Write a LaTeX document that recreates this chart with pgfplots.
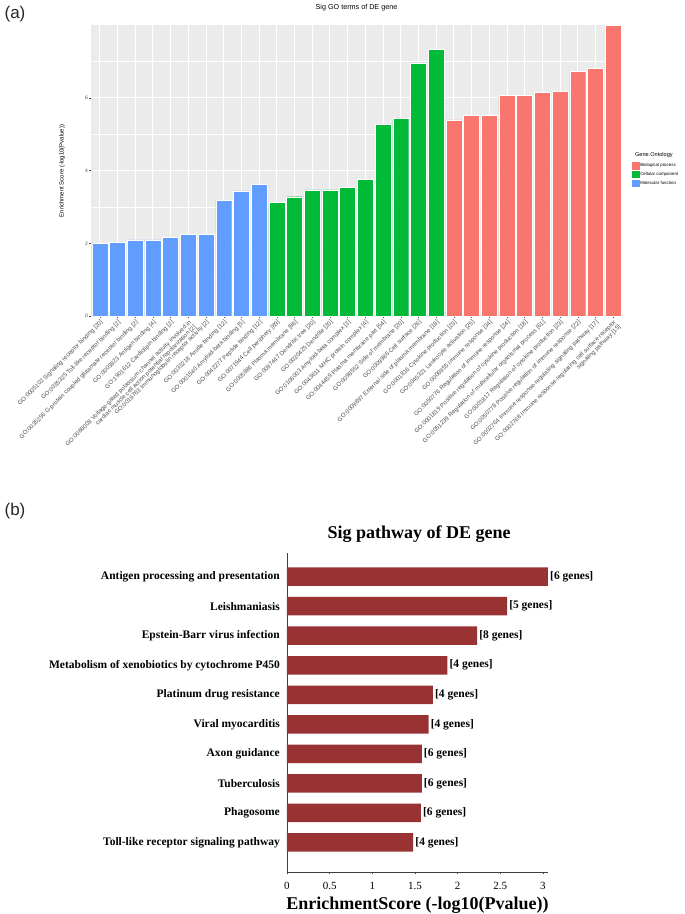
\documentclass[border=0pt]{standalone}
\usepackage{pgfplots}
\pgfplotsset{compat=1.18}
\usepackage{fontspec}
\setmainfont{Liberation Serif}
\newfontfamily\arialf{Liberation Sans}
\definecolor{ggred}{HTML}{F8766D}
\definecolor{gggreen}{HTML}{00BA38}
\definecolor{ggblue}{HTML}{619CFF}
\definecolor{ggbg}{HTML}{EBEBEB}
\definecolor{gglab}{HTML}{4D4D4D}
\definecolor{barred}{RGB}{153,51,51}
\pgfplotsset{ggkey/.style={legend image code/.code={\fill[##1,draw=none] (0pt,-3.75pt) rectangle (7.5pt,3.75pt);}}}

\pgfplotstableread[col sep=comma]{
v,i,g
3.06,10,[6 genes]
2.58,9,[5 genes]
2.23,8,[8 genes]
1.88,7,[4 genes]
1.71,6,[4 genes]
1.66,5,[4 genes]
1.58,4,[6 genes]
1.58,3,[6 genes]
1.57,2,[6 genes]
1.48,1,[4 genes]
}\pathtab

\begin{document}
\begin{tikzpicture}
\useasboundingbox (0pt,0pt) rectangle (685pt,-914pt);
\node[font=\arialf\fontsize{17}{17}\selectfont, text=black!85] at (15pt,-14pt) {(a)};
\node[font=\arialf\fontsize{17}{17}\selectfont, text=black!85] at (15pt,-511pt) {(b)};
\node[anchor=west, font=\arialf\fontsize{5.6}{6}\selectfont] at (631.5pt,-155pt) {Gene.Ontology};

\begin{axis}[
  at={(91pt,-316pt)}, anchor=south west,
  scale only axis, width=531pt, height=291pt,
  xmin=0.5, xmax=30.5, ymin=0, ymax=8,
  axis background/.style={fill=ggbg},
  axis line style={draw=none},
  xtick={1,...,30},
  xticklabels={
    GO:0005102 Signaling receptor binding [20],
    GO:0035325 Toll-like receptor binding [2],
    GO:0035256 G-protein coupled glutamate receptor binding [2],
    GO:0003823 Antigen binding [4],
    GO:1901612 Cardiolipin binding [2],
    {GO:0086008 Voltage-gated potassium channel activity involved in\\cardiac muscle cell action potential repolarization [2]},
    GO:0019763 Immunoglobulin receptor activity [2],
    GO:0033218 Amide binding [12],
    GO:0001540 Amyloid-beta binding [5],
    GO:0042277 Peptide binding [12],
    GO:0071944 Cell periphery [89],
    GO:0005886 Plasma membrane [86],
    GO:0097447 Dendritic tree [20],
    GO:0030425 Dendrite [20],
    GO:0106003 Amyloid-beta complex [3],
    GO:0043611 MHC protein complex [4],
    GO:0044459 Plasma membrane part [54],
    GO:0098552 Side of membrane [20],
    GO:0009986 Cell surface [26],
    GO:0009897 External side of plasma membrane [18],
    GO:0001816 Cytokine production [23],
    GO:0045321 Leukocyte activation [25],
    GO:0006955 Immune response [34],
    GO:0050776 Regulation of immune response [24],
    GO:0001819 Positive regulation of cytokine production [18],
    GO:0051239 Regulation of multicellular organismal process [61],
    GO:0001817 Regulation of cytokine production [23],
    GO:0050778 Positive regulation of immune response [22],
    GO:0002764 Immune response-regulating signaling pathway [17],
    {GO:0002768 Immune response-regulating cell surface receptor\\signaling pathway [15]}
  },
  ytick={0,2,4,6}, minor ytick={1,3,5,7},
  grid=both,
  major grid style={white, line width=0.9pt},
  minor grid style={white, line width=0.45pt},
  tick align=outside, major tick length=2pt, minor tick length=0pt,
  tick style={gglab, line width=0.4pt},
  tick pos=left,
  xticklabel style={rotate=45, anchor=north east, font=\arialf\fontsize{6}{6.6}\selectfont, text=gglab, align=right, inner sep=1pt},
  yticklabel style={font=\arialf\fontsize{5}{6}\selectfont, text=gglab, inner sep=1pt},
  /pgf/number format/assume math mode=true,
  title={Sig GO terms of DE gene},
  title style={font=\arialf\fontsize{7.2}{8}\selectfont, at={(axis description cs:0.5,1.038)}, anchor=center},
  ylabel={Enrichment Score (-log10(Pvalue))},
  ylabel style={font=\arialf\fontsize{6}{7}\selectfont, at={(axis description cs:-0.0546,0.498)}, anchor=center},
  legend style={at={(axis description cs:1.0188,0.529)}, anchor=north west, draw=none, fill=none,
    inner sep=0pt, row sep=1.2pt, font=\arialf\fontsize{4.4}{5}\selectfont,
    nodes={inner sep=0.6pt, anchor=west},
    /tikz/every even column/.append style={column sep=3pt}},
  legend cell align=left,
]
\addplot[ybar, bar width=0.9, bar shift=0pt, fill=ggred, draw=white, line width=0.4pt, ggkey] coordinates {
 (21,5.39) (22,5.51) (23,5.52) (24,6.06) (25,6.06) (26,6.15) (27,6.18) (28,6.72) (29,6.80) (30,8.0)};
\addlegendentry{Biological process}
\addplot[ybar, bar width=0.9, bar shift=0pt, fill=gggreen, draw=white, line width=0.4pt, ggkey] coordinates {
 (11,3.12) (12,3.28) (13,3.47) (14,3.47) (15,3.53) (16,3.76) (17,5.27) (18,5.43) (19,6.96) (20,7.33)};
\addlegendentry{Cellular component}
\addplot[ybar, bar width=0.9, bar shift=0pt, fill=ggblue, draw=white, line width=0.4pt, ggkey] coordinates {
 (1,1.99) (2,2.02) (3,2.09) (4,2.09) (5,2.17) (6,2.25) (7,2.25) (8,3.18) (9,3.44) (10,3.61)};
\addlegendentry{Molecular function}
\end{axis}

\begin{axis}[
  at={(287pt,-872pt)}, anchor=south west,
  scale only axis, width=261pt, height=319pt,
  xmin=0, xmax=3.06, ymin=0, ymax=10.8,
  xbar, bar width=18.5pt,
  axis lines*=left,
  axis line style={black!75, line width=0.6pt},
  ytick={1,...,10},
  yticklabels={Toll-like receptor signaling pathway, Phagosome, Tuberculosis, Axon guidance, Viral myocarditis, Platinum drug resistance, Metabolism of xenobiotics by cytochrome P450, Epstein-Barr virus infection, Leishmaniasis, Antigen processing and presentation},
  ytick style={draw=none},
  yticklabel style={font=\bfseries\fontsize{11.5}{12}\selectfont, inner sep=0pt, xshift=-5pt},
  xtick={0,0.5,1,1.5,2,2.5,3},
  xticklabels={0,0.5,1,1.5,2,2.5,3},
  xticklabel style={font=\fontsize{11}{12}\selectfont, anchor=north, inner sep=0pt, yshift=-8pt},
  xtick style={black!75, line width=0.5pt},
  tick align=outside, major tick length=2pt,
  title={Sig pathway of DE gene},
  title style={font=\bfseries\fontsize{18}{20}\selectfont, at={(axis description cs:0.506,1.04)}, anchor=center},
  xlabel={EnrichmentScore (-log10(Pvalue))},
  xlabel style={font=\bfseries\fontsize{18}{20}\selectfont, at={(axis description cs:0.5,-0.103)}, anchor=center},
  clip=false,
  nodes near coords,
  point meta=explicit symbolic,
  nodes near coords style={font=\bfseries\fontsize{11.5}{12}\selectfont, anchor=west, inner sep=2pt},
]
\addplot[fill=barred, draw=none] table[x=v, y=i, meta=g] {\pathtab};
\end{axis}
\end{tikzpicture}
\end{document}
